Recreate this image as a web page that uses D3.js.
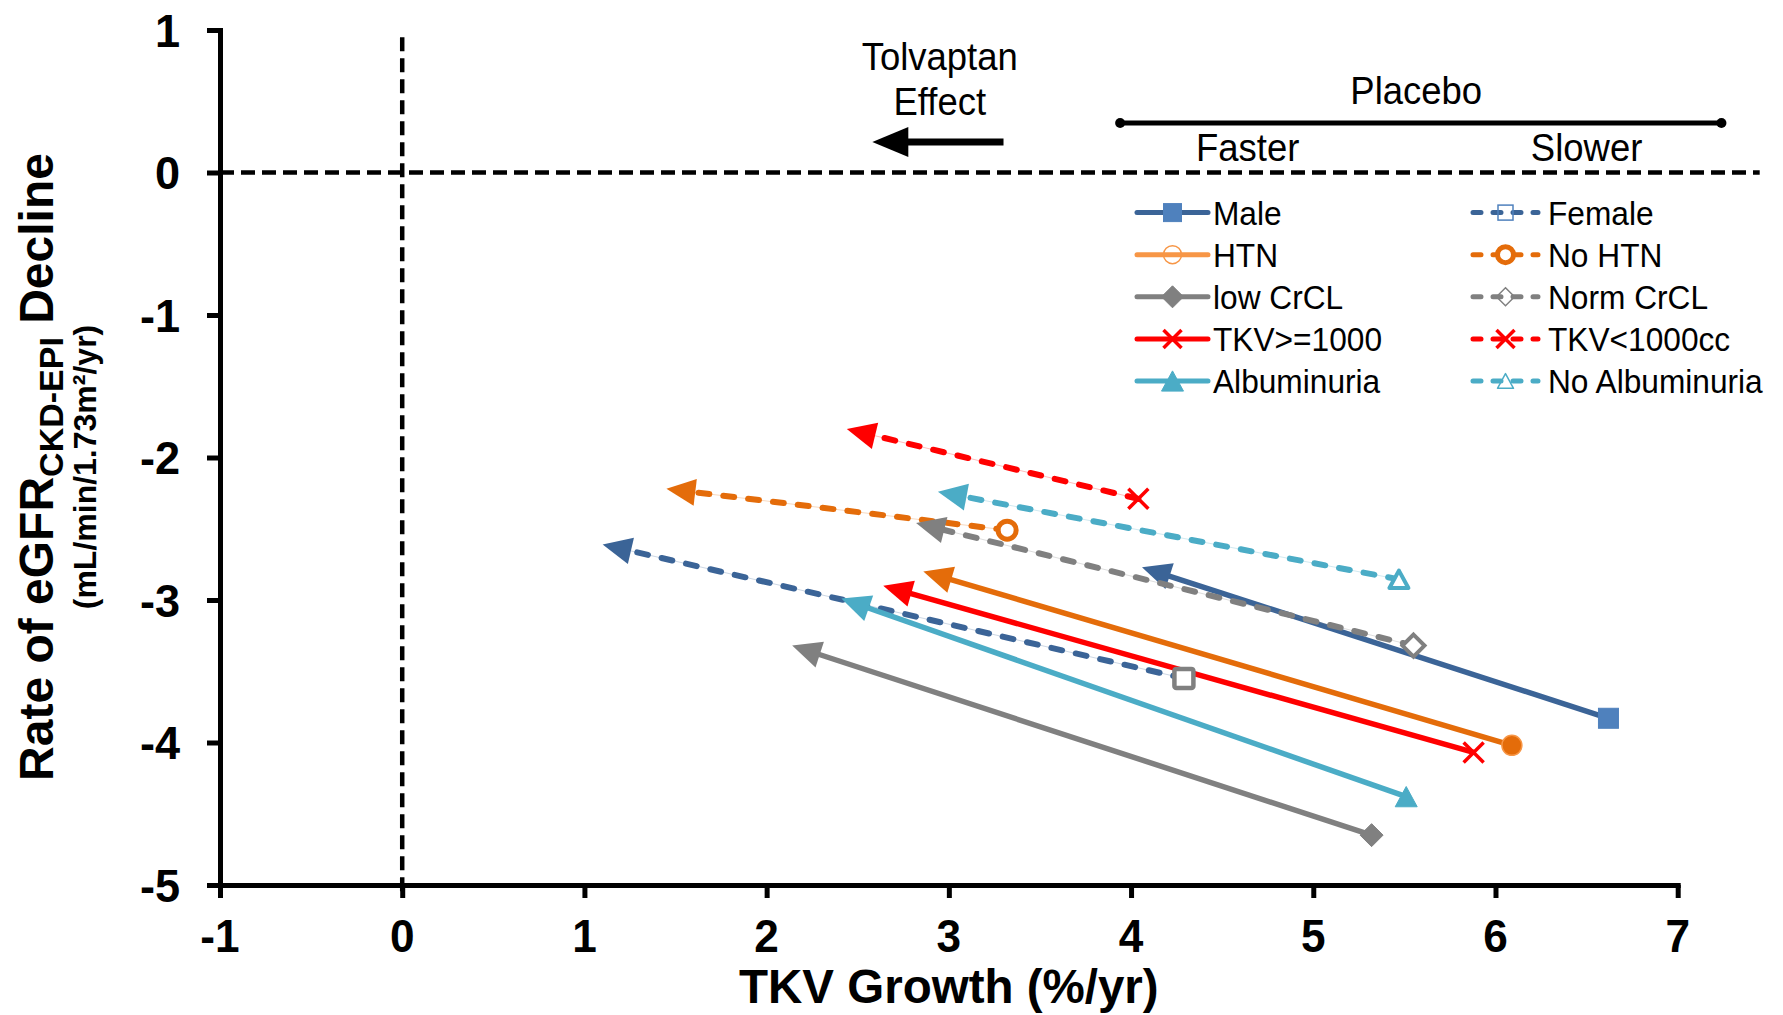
<!DOCTYPE html>
<html>
<head>
<meta charset="utf-8">
<script src="https://cdn.jsdelivr.net/npm/d3@7"></script>
<style>
  html, body { margin: 0; padding: 0; background: #fff; }
  svg { display: block; font-family: "Liberation Sans", Arial, sans-serif; }
</style>
</head>
<body>
<svg id="chart" width="1783" height="1015"></svg>
<script>
// ---- data: placebo rate (marker end) and tolvaptan rate (arrow end) per subgroup ----
const categories  = ["Male", "Female", "HTN", "No HTN", "low CrCL", "Norm CrCL",
                     "TKV>=1000", "TKV<1000cc", "Albuminuria", "No Albuminuria"];
const placeboX    = [6.62, 4.29, 6.09, 3.32, 5.32, 5.55, 5.88, 4.04, 5.51, 5.47];
const placeboY    = [-3.83, -3.55, -4.02, -2.51, -4.65, -3.32, -4.07, -2.29, -4.38, -2.855];
const tolvaptanX  = [4.06, 1.10, 2.86, 1.45, 2.14, 2.82, 2.64, 2.44, 2.41, 2.94];
const tolvaptanY  = [-2.77, -2.61, -2.80, -2.22, -3.32, -2.46, -2.90, -1.80, -2.99, -2.24];

const xTicks = [-1, 0, 1, 2, 3, 4, 5, 6, 7];
const yTicks = [1, 0, -1, -2, -3, -4, -5];

// ---- styling per subgroup ----
const BLUE = "#3B6497", BLUE_M = "#4F81BD", ORANGE = "#E46C0A", ORANGE_L = "#F79646",
      GRAY = "#808080", RED = "#FF0000", TEAL = "#4BACC6";

const seriesStyle = [
  { color: BLUE,   dashed: false, marker: "square",   size: 20, fill: BLUE_M, stroke: BLUE_M, sw: 1 },
  { color: BLUE,   dashed: true,  marker: "square",   size: 19, fill: "#fff", stroke: GRAY,   sw: 4.5 },
  { color: ORANGE, dashed: false, marker: "circle",   size: 20, fill: ORANGE, stroke: ORANGE_L, sw: 1.5 },
  { color: ORANGE, dashed: true,  marker: "circle",   size: 18, fill: "#fff", stroke: ORANGE, sw: 5 },
  { color: GRAY,   dashed: false, marker: "diamond",  size: 23, fill: GRAY,   stroke: GRAY,   sw: 1 },
  { color: GRAY,   dashed: true,  marker: "diamond",  size: 22, fill: "#fff", stroke: GRAY,   sw: 4 },
  { color: RED,    dashed: false, marker: "x",        size: 20, fill: "none", stroke: RED,    sw: 3.5 },
  { color: RED,    dashed: true,  marker: "x",        size: 20, fill: "none", stroke: RED,    sw: 3.5 },
  { color: TEAL,   dashed: false, marker: "triangle", size: 22, fill: TEAL,   stroke: TEAL,   sw: 1 },
  { color: TEAL,   dashed: true,  marker: "triangle", size: 19, fill: "#fff", stroke: TEAL,   sw: 4 }
];

const legendStyle = [
  { line: BLUE,     marker: "square",   size: 18, fill: BLUE_M, stroke: BLUE_M,   sw: 1 },
  { line: BLUE,     marker: "square",   size: 15, fill: "none", stroke: BLUE_M,   sw: 1.5 },
  { line: ORANGE_L, marker: "circle",   size: 18, fill: "none", stroke: ORANGE_L, sw: 1.5 },
  { line: ORANGE,   marker: "circle",   size: 16, fill: "#fff", stroke: ORANGE,   sw: 5 },
  { line: GRAY,     marker: "diamond",  size: 22, fill: GRAY,   stroke: GRAY,     sw: 1 },
  { line: GRAY,     marker: "diamond",  size: 18, fill: "none", stroke: GRAY,     sw: 1.5 },
  { line: RED,      marker: "x",        size: 18, fill: "none", stroke: RED,      sw: 3.5 },
  { line: RED,      marker: "x",        size: 18, fill: "none", stroke: RED,      sw: 3.5 },
  { line: TEAL,     marker: "triangle", size: 22, fill: TEAL,   stroke: TEAL,     sw: 1 },
  { line: TEAL,     marker: "triangle", size: 16, fill: "none", stroke: TEAL,     sw: 1.5 }
];

const SX = 0.96;           // horizontal squeeze of the upright lettering

const svg = d3.select("#chart");
const x = d3.scaleLinear().domain([-1, 7]).range([220, 1677.7]);
const y = d3.scaleLinear().domain([-5, 1]).range([885, 30]);

// text helper: places text at (px, py); upright text uses the narrow lettering
function label(parent, px, py, txt, opts) {
  const tf = opts.rotate
    ? `translate(${px},${py}) rotate(${opts.rotate})`
    : `translate(${px},${py}) scale(${opts.sx || SX},1)`;
  const g = parent.append("g").attr("transform", tf);
  const t = g.append("text")
    .attr("text-anchor", opts.anchor || "start")
    .attr("font-size", opts.size)
    .attr("font-weight", opts.bold ? "bold" : "normal")
    .attr("fill", "#000");
  if (opts.dy) t.attr("dy", opts.dy);
  if (txt !== null) t.text(txt);
  return t;
}

// marker helper
function drawMarker(parent, type, cx, cy, s) {
  const h = s.size / 2;
  let el;
  if (type === "square") {
    el = parent.append("rect").attr("x", cx - h).attr("y", cy - h)
      .attr("width", s.size).attr("height", s.size).attr("rx", s.sw > 3 ? 2 : 0);
  } else if (type === "circle") {
    el = parent.append("circle").attr("cx", cx).attr("cy", cy).attr("r", h);
  } else if (type === "diamond") {
    el = parent.append("path").attr("d", `M${cx},${cy - h}L${cx + h},${cy}L${cx},${cy + h}L${cx - h},${cy}Z`);
  } else if (type === "x") {
    el = parent.append("path").attr("d", `M${cx - h},${cy - h}L${cx + h},${cy + h}M${cx + h},${cy - h}L${cx - h},${cy + h}`);
  } else if (type === "triangle") {
    const th = s.size * 0.92;
    el = parent.append("path").attr("d", `M${cx},${cy - th / 2}L${cx + h},${cy + th / 2}L${cx - h},${cy + th / 2}Z`)
      .attr("stroke-linejoin", "round");
  }
  el.attr("fill", s.fill).attr("stroke", s.stroke).attr("stroke-width", s.sw);
  return el;
}

// ---- reference lines at x = 0 and y = 0 ----
svg.append("line")
  .attr("x1", x(-1)).attr("x2", x(7.45)).attr("y1", y(0)).attr("y2", y(0))
  .attr("stroke", "#000").attr("stroke-width", 4.5).attr("stroke-dasharray", "14,7");
svg.append("line")
  .attr("x1", x(0)).attr("x2", x(0)).attr("y1", y(0.95)).attr("y2", y(-5) + 12)
  .attr("stroke", "#000").attr("stroke-width", 4.5).attr("stroke-dasharray", "14,7");

// ---- axes ----
const yAxis = svg.append("g").attr("transform", `translate(${x(-1)},0)`)
  .call(d3.axisLeft(y).tickValues(yTicks).tickSize(13).tickSizeOuter(0).tickFormat(""));
const xAxis = svg.append("g").attr("transform", `translate(0,${y(-5)})`)
  .call(d3.axisBottom(x).tickValues(xTicks).tickSize(13).tickSizeOuter(0).tickFormat(""));
[xAxis, yAxis].forEach(a => {
  a.select(".domain").attr("stroke", "#000").attr("stroke-width", 5).attr("stroke-linecap", "square");
  a.selectAll(".tick line").attr("stroke", "#000").attr("stroke-width", 5);
});

yTicks.forEach(v => label(svg, x(-1) - 40, y(v), String(v), { anchor: "end", size: 47, bold: true, dy: "0.355em" }));
xTicks.forEach(v => label(svg, x(v), 952, String(v), { anchor: "middle", size: 46, bold: true }));

// axis titles
label(svg, x(3), 1003, "TKV Growth (%/yr)", { anchor: "middle", size: 48, bold: true, sx: 0.99 });
const yt = label(svg, 53, 467, null, { anchor: "middle", size: 48, bold: true, rotate: -90 });
yt.append("tspan").text("Rate of eGFR");
yt.append("tspan").attr("font-size", 34).attr("dy", 10).text("CKD-EPI");
yt.append("tspan").attr("dy", -10).text(" Decline");
label(svg, 96, 467, "(mL/min/1.73m\u00B2/yr)", { anchor: "middle", size: 32, bold: true, rotate: -90 });

// ---- annotations ----
label(svg, x(2.95), y(0.72), "Tolvaptan", { anchor: "middle", size: 38 });
label(svg, x(2.95), y(0.405), "Effect", { anchor: "middle", size: 38 });
svg.append("line")
  .attr("x1", x(3.30)).attr("x2", x(2.75)).attr("y1", y(0.214)).attr("y2", y(0.214))
  .attr("stroke", "#000").attr("stroke-width", 7);
svg.append("path")
  .attr("d", `M${x(2.58)},${y(0.214)}L${x(2.58) + 36},${y(0.214) - 15}L${x(2.58) + 36},${y(0.214) + 15}Z`)
  .attr("fill", "#000");

svg.append("line")
  .attr("x1", x(3.94)).attr("x2", x(7.24)).attr("y1", y(0.347)).attr("y2", y(0.347))
  .attr("stroke", "#000").attr("stroke-width", 5);
[3.94, 7.24].forEach(v => svg.append("circle").attr("cx", x(v)).attr("cy", y(0.347)).attr("r", 5).attr("fill", "#000"));
label(svg, x(5.565), y(0.48), "Placebo", { anchor: "middle", size: 38 });
label(svg, x(4.64), y(0.08), "Faster", { anchor: "middle", size: 38 });
label(svg, x(6.50), y(0.08), "Slower", { anchor: "middle", size: 38 });

// ---- subgroup arrows: placebo point -> tolvaptan point ----
const ARROW_L = 29, ARROW_HW = 13.5;
const plot = svg.append("g");
categories.forEach((name, i) => {
  const st = seriesStyle[i];
  const x0 = x(placeboX[i]), y0 = y(placeboY[i]);
  const x1 = x(tolvaptanX[i]), y1 = y(tolvaptanY[i]);
  const dx = x1 - x0, dy = y1 - y0, len = Math.hypot(dx, dy);
  const ux = dx / len, uy = dy / len;
  const bx = x1 - ux * ARROW_L, by = y1 - uy * ARROW_L;
  const g = plot.append("g").attr("class", "subgroup");
  if (st.dashed) {
    g.append("line").attr("x1", x0).attr("y1", y0).attr("x2", bx).attr("y2", by)
      .attr("stroke", st.color).attr("stroke-width", 1).attr("opacity", 0.25);
  }
  g.append("line").attr("x1", x0).attr("y1", y0).attr("x2", bx + ux * 2).attr("y2", by + uy * 2)
    .attr("stroke", st.color).attr("stroke-width", st.dashed ? 6 : 5.5)
    .attr("stroke-linecap", st.dashed ? "round" : "butt")
    .attr("stroke-dasharray", st.dashed ? "11,14" : null);
  g.append("path")
    .attr("d", `M${x1},${y1}L${bx - uy * ARROW_HW},${by + ux * ARROW_HW}L${bx + uy * ARROW_HW},${by - ux * ARROW_HW}Z`)
    .attr("fill", st.color);
});
categories.forEach((name, i) => {
  const st = seriesStyle[i];
  drawMarker(plot, st.marker, x(placeboX[i]), y(placeboY[i]), st);
});

// ---- legend ----
const legend = svg.append("g");
const rowY0 = 212.6, rowStep = 42.1;
const cols = [{ x0: 1137, x1: 1208, tx: 1213 }, { x0: 1470, x1: 1541, tx: 1548 }];
categories.forEach((name, i) => {
  const col = cols[i % 2], row = Math.floor(i / 2);
  const cy = rowY0 + row * rowStep;
  const ls = legendStyle[i];
  const dashed = seriesStyle[i].dashed;
  legend.append("line").attr("x1", col.x0 + (dashed ? 3 : 0)).attr("x2", col.x1 - (dashed ? 3 : 0))
    .attr("y1", cy).attr("y2", cy)
    .attr("stroke", ls.line).attr("stroke-width", 5)
    .attr("stroke-linecap", "round")
    .attr("stroke-dasharray", dashed ? "8,12" : null);
  drawMarker(legend, ls.marker, (col.x0 + col.x1) / 2, cy, ls);
  label(legend, col.tx, cy + 12, name, { size: 33 });
});
</script>
</body>
</html>
